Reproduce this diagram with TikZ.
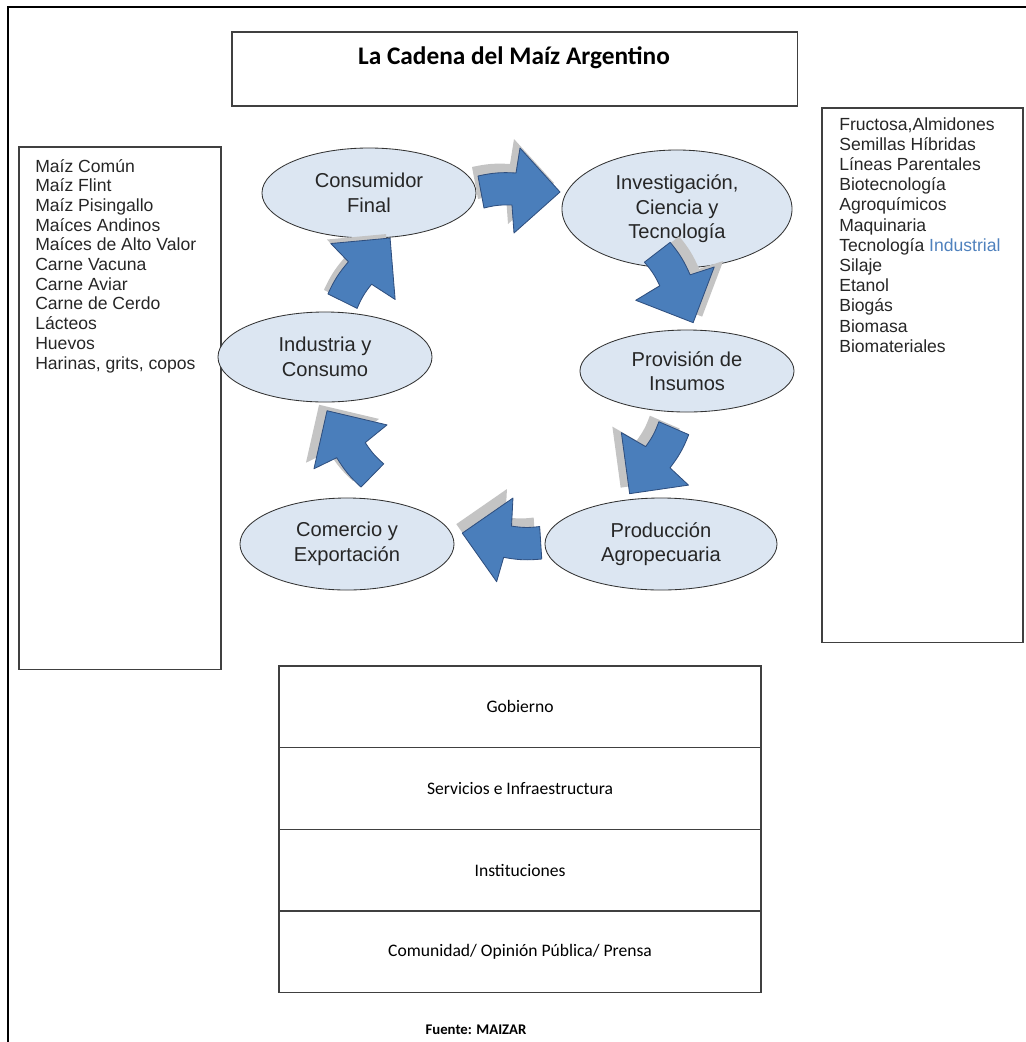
\documentclass[tikz,border=0pt]{standalone}
\usepackage{fontspec}
\setmainfont{Liberation Sans}
\newfontfamily\calibri{Carlito}
\usepackage{tikz}
\usetikzlibrary{shapes.geometric,positioning,calc}
\definecolor{stagefill}{HTML}{DCE6F2}
\definecolor{arrowblue}{HTML}{4A7EBB}
\definecolor{arrowedge}{HTML}{2F4F7F}
\definecolor{shadegrey}{HTML}{C4C4C4}
\definecolor{industrialblue}{HTML}{4F81BD}
\newcommand{\cyclearrow}{(-42,-16) to[bend left=8] (-4,-19) -- (0,-44) -- (40,0) -- (-6,41) -- (-8,13) to[bend right=8] (-36,16) -- cycle}

\begin{document}
\begin{tikzpicture}[x=0.025cm, y=-0.025cm,
        panel/.style={draw=black!75, line width=0.9pt, inner sep=0pt, outer sep=0pt, anchor=north west},
        stage/.style={ellipse, draw=black!80, line width=0.6pt, fill=stagefill, align=center, inner sep=0pt, font=\fontsize{14.3}{17.5}\selectfont, text=black!85},
        listitem/.style={anchor=base west, inner sep=0pt, font=\fontsize{12.5}{14}\selectfont, text=black!85},
        tablerow/.style={draw=black!75, line width=0.9pt, minimum width=12.05cm, minimum height=2.04cm, outer sep=0pt, font=\calibri\fontsize{12.5}{15}\selectfont},
        flowbody/.style={fill=arrowblue, draw=arrowedge, line width=0.6pt, line join=round},
        flowshade/.style={fill=shadegrey}
    ]
        \useasboundingbox (0,0) rectangle (1026,1042);
        \draw[line width=1.2pt] (1026,7) -- (8,7) -- (8,1042);

        % title
        \node[panel, minimum width=14.125cm, minimum height=1.85cm] (titlebox) at (232,32) {};
        \node[font=\calibri\bfseries\fontsize{18}{22}\selectfont, anchor=base] (title) at (514,64) {La Cadena del Maíz Argentino};

        % side lists
        \node[panel, minimum width=5.05cm, minimum height=13.05cm] (foodbox) at (19,147) {};
        \node[panel, minimum width=5.025cm, minimum height=13.35cm] (inputbox) at (822,108) {};

        \foreach \entry [count=\i from 0] in {Maíz Común, Maíz Flint, Maíz Pisingallo, Maíces Andinos, Maíces de Alto Valor, Carne Vacuna, Carne Aviar, Carne de Cerdo, Lácteos, Huevos, {Harinas, grits, copos}}
            \node[listitem] (food\i) at (35,172+19.7*\i) {\entry};

        \foreach \entry [count=\i from 0] in {{Fructosa,Almidones}, Semillas Híbridas, Líneas Parentales, Biotecnología, Agroquímicos, Maquinaria, {Tecnología \textcolor{industrialblue}{Industrial}}, Silaje, Etanol, Biogás, Biomasa, Biomateriales}
            \node[listitem] (input\i) at (839,130+20.2*\i) {\entry};

        % the cycle
        \node[stage, minimum width=5.35cm, minimum height=2.25cm] (cons) at (369,193) {Consumidor\\Final};
        \node[stage, minimum width=5.75cm, minimum height=2.95cm] (inv) at (677,209) {Investigación,\\Ciencia y\\Tecnología};
        \node[stage, minimum width=5.35cm, minimum height=2.05cm] (prov) at (687,371) {Provisión de\\Insumos};
        \node[stage, minimum width=5.8cm, minimum height=2.3cm] (prod) at (661,544) {Producción\\Agropecuaria};
        \node[stage, minimum width=5.35cm, minimum height=2.3cm] (com) at (347,544) {Comercio y\\Exportación};
        \node[stage, minimum width=5.35cm, minimum height=2.25cm] (ind) at (325,357) {Industria y\\Consumo};

        \foreach \from/\to/\ang/\ox/\oy/\sx/\sy in {cons/inv/0/-3/-9/-6/-9, inv/prov/-63/-7/-3/9/-6, prov/prod/-124/-22/3/-9/-6, prod/com/173/-2/-6/-6/-9, com/ind/125/14/-7/-8/-6, ind/cons/53/19/-5/-4/-4}{
            \path[flowshade, shift={($(\from)!0.5!(\to)+(\ox,\oy)$)}, shift={(\sx,\sy)}, rotate=\ang] \cyclearrow;
            \path[flowbody, shift={($(\from)!0.5!(\to)+(\ox,\oy)$)}, rotate=\ang] \cyclearrow;
        }

        % actors below
        \node[tablerow, anchor=north west] (gob) at (279,666) {Gobierno};
        \node[tablerow, below=0pt of gob] (serv) {Servicios e Infraestructura};
        \node[tablerow, below=0pt of serv] (inst) {Instituciones};
        \node[tablerow, below=0pt of inst] (comu) {Comunidad/ Opinión Pública/ Prensa};

        \node[font=\calibri\bfseries\fontsize{10.5}{12}\selectfont] (source) at (476,1030) {Fuente: MAIZAR};
    \end{tikzpicture}
\end{document}
